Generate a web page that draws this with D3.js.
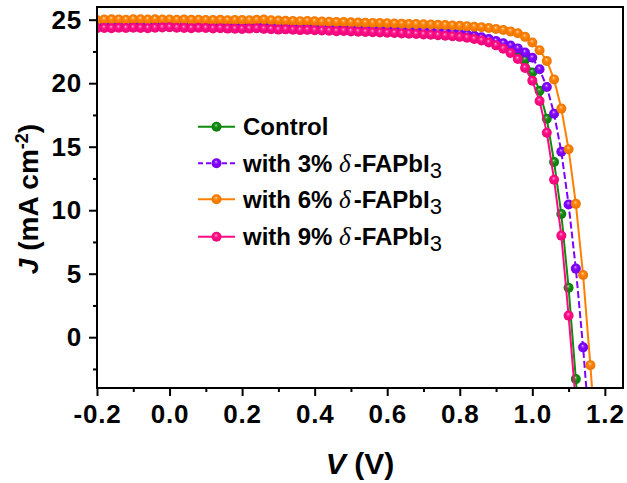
<!DOCTYPE html>
<html>
<head>
<meta charset="utf-8">
<script src="https://cdn.jsdelivr.net/npm/d3@7/dist/d3.min.js"></script>
<style>
  html, body { margin: 0; padding: 0; background: #fff; }
  svg { display: block; }
</style>
</head>
<body>
<svg id="chart" width="627" height="483"></svg>
<script>
// J–V curves of devices with different δ-FAPbI3 additions
const voltage = [
  -0.20, -0.18, -0.16, -0.14, -0.12, -0.10, -0.08, -0.06, -0.04, -0.02,
   0.00,  0.02,  0.04,  0.06,  0.08,  0.10,  0.12,  0.14,  0.16,  0.18,
   0.20,  0.22,  0.24,  0.26,  0.28,  0.30,  0.32,  0.34,  0.36,  0.38,
   0.40,  0.42,  0.44,  0.46,  0.48,  0.50,  0.52,  0.54,  0.56,  0.58,
   0.60,  0.62,  0.64,  0.66,  0.68,  0.70,  0.72,  0.74,  0.76,  0.78,
   0.80,  0.82,  0.84,  0.86,  0.88,  0.90,  0.92,  0.94,  0.96,  0.98,
   1.00,  1.02,  1.04,  1.06,  1.08,  1.10,  1.12,  1.14,  1.16,  1.18
];

const jControl = [
  24.45, 24.47, 24.46, 24.48, 24.46, 24.47, 24.45, 24.46, 24.44, 24.45,
  24.43, 24.44, 24.42, 24.43, 24.41, 24.40, 24.41, 24.39, 24.38, 24.37,
  24.36, 24.37, 24.35, 24.33, 24.32, 24.30, 24.29, 24.27, 24.26, 24.24,
  24.23, 24.21, 24.19, 24.17, 24.15, 24.13, 24.11, 24.09, 24.07, 24.05,
  24.03, 24.00, 23.98, 23.95, 23.92, 23.89, 23.86, 23.82, 23.78, 23.74,
  23.69, 23.63, 23.56, 23.47, 23.36, 23.22, 23.04, 22.82, 22.52, 21.85,
  20.85, 19.40, 17.20, 13.80, 9.70, 3.90, -3.30, -11.00
];

const j3 = [
  24.62, 24.64, 24.63, 24.65, 24.62, 24.64, 24.63, 24.61, 24.63, 24.62,
  24.60, 24.62, 24.61, 24.59, 24.60, 24.58, 24.57, 24.58, 24.56, 24.55,
  24.56, 24.54, 24.55, 24.53, 24.51, 24.50, 24.48, 24.47, 24.45, 24.46,
  24.43, 24.41, 24.40, 24.38, 24.36, 24.34, 24.33, 24.31, 24.29, 24.27,
  24.25, 24.23, 24.20, 24.18, 24.15, 24.12, 24.09, 24.05, 24.01, 23.96,
  23.90, 23.83, 23.74, 23.62, 23.48, 23.32, 23.15, 22.96, 22.74, 22.42,
  22.00, 21.10, 19.70, 17.60, 14.60, 10.45, 5.40, -0.80, -8.00
];

const j6 = [
  24.98, 25.01, 25.03, 25.02, 25.00, 25.03, 25.04, 25.02, 25.03, 25.01,
  25.02, 25.00, 25.01, 24.99, 25.00, 24.98, 24.97, 24.99, 24.96, 24.97,
  24.98, 24.96, 24.99, 25.01, 24.95, 24.93, 24.91, 24.90, 24.88, 24.90,
  24.87, 24.85, 24.84, 24.82, 24.81, 24.79, 24.78, 24.76, 24.75, 24.74,
  24.72, 24.70, 24.69, 24.67, 24.66, 24.64, 24.62, 24.60, 24.58, 24.55,
  24.52, 24.49, 24.45, 24.40, 24.34, 24.27, 24.19, 24.08, 23.93, 23.65,
  23.20, 22.60, 21.75, 20.30, 18.00, 14.80, 10.50, 4.90, -2.20, -10.00
];

const j9 = [
  24.32, 24.35, 24.33, 24.36, 24.34, 24.37, 24.35, 24.33, 24.36, 24.38,
  24.40, 24.37, 24.35, 24.33, 24.36, 24.34, 24.31, 24.33, 24.30, 24.29,
  24.27, 24.30, 24.32, 24.28, 24.25, 24.22, 24.24, 24.21, 24.18, 24.20,
  24.17, 24.15, 24.13, 24.10, 24.12, 24.08, 24.06, 24.04, 24.01, 23.99,
  23.97, 23.95, 23.92, 23.90, 23.87, 23.84, 23.81, 23.78, 23.74, 23.70,
  23.65, 23.58, 23.48, 23.36, 23.20, 22.98, 22.72, 22.38, 21.90, 21.20,
  20.20, 18.60, 16.10, 12.40, 8.00, 1.70, -5.20
];

const seriesNames = ["Control", "with 3% δ-FAPbI3", "with 6% δ-FAPbI3", "with 9% δ-FAPbI3"];
const seriesValues = [jControl, j3, j6, j9];
const seriesColors = ["#0e8a0e", "#8000ff", "#ff8000", "#ff0a84"];
const seriesDash = [null, "7,3", null, null];

const xTicks = [-0.2, 0.0, 0.2, 0.4, 0.6, 0.8, 1.0, 1.2];
const xMinorTicks = [-0.1, 0.1, 0.3, 0.5, 0.7, 0.9, 1.1];
const yTicks = [0, 5, 10, 15, 20, 25];
const yMinorTicks = [-2.5, 2.5, 7.5, 12.5, 17.5, 22.5];

const svg = d3.select("#chart");
const plot = { left: 97, right: 623, top: 7, bottom: 388 };

const x = d3.scaleLinear().domain([-0.2, 1.25]).range([plot.left, plot.right]);
const y = d3.scaleLinear().domain([-4, 26]).range([plot.bottom, plot.top]);

const defs = svg.append("defs");
defs.append("clipPath").attr("id", "plot-clip")
  .append("rect")
  .attr("x", plot.left).attr("y", plot.top)
  .attr("width", plot.right - plot.left).attr("height", plot.bottom - plot.top);

// glossy sphere fill for each series colour
seriesColors.forEach((c, i) => {
  const g = defs.append("radialGradient").attr("id", "ball" + i)
    .attr("cx", "0.5").attr("cy", "0.5").attr("r", "0.55")
    .attr("fx", "0.45").attr("fy", "0.33");
  g.append("stop").attr("offset", "0").attr("stop-color", d3.interpolateRgb(c, "#fff")(0.8));
  g.append("stop").attr("offset", "0.18").attr("stop-color", d3.interpolateRgb(c, "#fff")(0.25));
  g.append("stop").attr("offset", "0.42").attr("stop-color", c);
  g.append("stop").attr("offset", "1").attr("stop-color", d3.interpolateRgb(c, "#000")(0.1));
});

const font = "'Liberation Sans', Arial, sans-serif";
const R = 5;

// data curves
const layer = svg.append("g").attr("clip-path", "url(#plot-clip)");
const line = d3.line().x(d => x(d[0])).y(d => y(d[1]));

seriesValues.forEach((vals, i) => {
  const pts = vals.map((j, k) => [voltage[k], j]);
  const g = layer.append("g");
  g.append("path")
    .datum(pts)
    .attr("d", line)
    .attr("fill", "none")
    .attr("stroke", seriesColors[i])
    .attr("stroke-width", 2)
    .attr("stroke-dasharray", seriesDash[i]);
  g.selectAll("circle").data(pts).enter().append("circle")
    .attr("cx", d => x(d[0]))
    .attr("cy", d => y(d[1]))
    .attr("r", R)
    .attr("fill", `url(#ball${i})`);
});

// axes
const fmtX = v => d3.format(".1f")(v).replace("−", "-");
const xAxis = svg.append("g").attr("transform", `translate(0,${plot.bottom})`)
  .call(d3.axisBottom(x).tickValues(xTicks).tickFormat(fmtX).tickSize(8).tickPadding(9));
const xMinor = svg.append("g").attr("transform", `translate(0,${plot.bottom})`)
  .call(d3.axisBottom(x).tickValues(xMinorTicks).tickFormat("").tickSize(4));
const yAxis = svg.append("g").attr("transform", `translate(${plot.left},0)`)
  .call(d3.axisLeft(y).tickValues(yTicks).tickSize(8).tickPadding(7));
const yMinor = svg.append("g").attr("transform", `translate(${plot.left},0)`)
  .call(d3.axisLeft(y).tickValues(yMinorTicks).tickFormat("").tickSize(4));

[xAxis, xMinor, yAxis, yMinor].forEach(a => {
  a.select(".domain").remove();
  a.selectAll(".tick line").attr("stroke", "#000").attr("stroke-width", 2);
  a.selectAll(".tick text")
    .attr("fill", "#000")
    .style("font-family", font)
    .style("font-weight", "bold")
    .style("font-size", "26px")
    .style("letter-spacing", "0.8px");
});

// frame
svg.append("rect")
  .attr("x", plot.left).attr("y", plot.top)
  .attr("width", plot.right - plot.left).attr("height", plot.bottom - plot.top)
  .attr("fill", "none").attr("stroke", "#000").attr("stroke-width", 2);

// axis titles
const xt = svg.append("text")
  .attr("x", 360).attr("y", 474)
  .attr("text-anchor", "middle")
  .style("font-family", font).style("font-weight", "bold").style("font-size", "30px");
xt.append("tspan").style("font-style", "italic").text("V");
xt.append("tspan").text(" (V)");

const yt = svg.append("text")
  .attr("transform", "translate(38,199) rotate(-90)")
  .attr("text-anchor", "middle")
  .style("font-family", font).style("font-weight", "bold").style("font-size", "28px");
yt.append("tspan").style("font-style", "italic").text("J");
yt.append("tspan").text(" (mA cm");
yt.append("tspan").attr("dy", -10).style("font-size", "18px").text("-2");
yt.append("tspan").attr("dy", 10).text(")");

// legend
const legendRows = [126.7, 163.3, 199.3, 236.7];
seriesNames.forEach((name, i) => {
  const cy = legendRows[i];
  const g = svg.append("g");
  g.append("line")
    .attr("x1", 198).attr("x2", 235).attr("y1", cy).attr("y2", cy)
    .attr("stroke", seriesColors[i]).attr("stroke-width", 2)
    .attr("stroke-dasharray", seriesDash[i] ? "5,3" : null);
  g.append("circle").attr("cx", 216.5).attr("cy", cy).attr("r", R)
    .attr("fill", `url(#ball${i})`);
  const t = g.append("text")
    .attr("x", 243).attr("y", cy + 8.5)
    .style("font-family", font).style("font-weight", "bold").style("font-size", "24px")
    .attr("fill", "#000");
  const di = name.indexOf("δ");
  if (di < 0) {
    t.text(name);
  } else {
    const rest = name.slice(di + 1);
    t.append("tspan").text(name.slice(0, di));
    t.append("tspan")
      .style("font-family", "'Liberation Serif', 'Times New Roman', serif")
      .style("font-style", "italic").style("font-weight", "normal")
      .style("font-size", "25px")
      .text("δ");
    t.append("tspan").attr("dx", 3).text(rest.slice(0, -1));
    t.append("tspan").attr("dy", 6)
      .style("font-weight", "normal").style("font-size", "22px")
      .text(rest.slice(-1));
  }
});
</script>
</body>
</html>
